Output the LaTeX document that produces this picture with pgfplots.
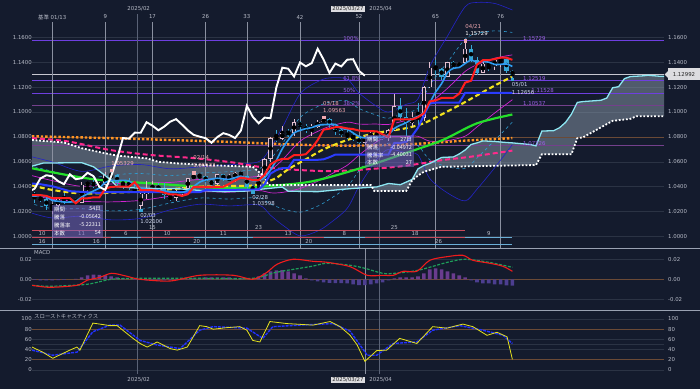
\documentclass[border=0pt]{standalone}
\usepackage{fontspec}
\setmainfont{DejaVu Sans}
\newfontfamily\jp{Noto Sans CJK JP}
\usepackage{pgfplots}
\usepackage{pgfplotstable}
\pgfplotsset{compat=1.18}

\definecolor{bg}{HTML}{141B2D}
\definecolor{gridc}{HTML}{2B3344}
\definecolor{labc}{HTML}{B8BCC8}
\definecolor{upc}{HTML}{E2BFCF}
\definecolor{dnc}{HTML}{36A6D6}
\definecolor{fibc}{HTML}{6E3FE0}
\definecolor{fibt}{HTML}{9B5FE6}
\definecolor{fibd}{HTML}{74408C}
\definecolor{brownc}{HTML}{6B4A36}
\definecolor{vline}{HTML}{8A90A0}
\definecolor{mline}{HTML}{5A6276}
\definecolor{pricel}{HTML}{C8C8D0}
\definecolor{yel}{HTML}{F2E21E}
\definecolor{grn}{HTML}{24E02A}
\definecolor{red1}{HTML}{FF1E1E}
\definecolor{blu1}{HTML}{2A3CFF}
\definecolor{sky}{HTML}{2E9CF0}
\definecolor{aqua}{HTML}{8CE6F2}
\definecolor{pinkd}{HTML}{FF2A8C}
\definecolor{orng}{HTML}{FF9424}
\definecolor{bb3}{HTML}{2424C8}
\definecolor{bb2}{HTML}{2E9CD0}
\definecolor{bb1}{HTML}{D024D0}
\definecolor{cloud}{HTML}{8C9CAC}
\definecolor{rowr}{HTML}{C84A5C}
\definecolor{rowb}{HTML}{6AAED6}
\definecolor{boxc}{HTML}{7667C0}
\definecolor{histp}{HTML}{6A3C8E}
\definecolor{histn}{HTML}{4C3E90}
\definecolor{macdr}{HTML}{F01C1C}
\definecolor{macdg}{HTML}{1E9E5A}
\definecolor{stoy}{HTML}{E6E21E}
\definecolor{stob}{HTML}{2232FF}
\definecolor{sepc}{HTML}{9AA2B2}
\definecolor{hiC}{HTML}{F0A8B0}
\definecolor{loC}{HTML}{D0D8F0}
\definecolor{curbg}{HTML}{DCDCE0}

\tikzset{
  lab/.style={font=\fontsize{5.4}{6}\selectfont, text=labc, inner sep=0pt},
  jl/.style={font=\jp\fontsize{5.4}{6}\selectfont, text=white, inner sep=0pt},
}
\pgfplotsset{panel/.style={scale only axis, width=632pt, xmin=-3.42, xmax=103.7,
  axis line style={draw=none}, xtick=\empty, major tick length=0pt, minor tick length=0pt,
  yticklabels={}, scaled y ticks=false, ymajorgrids, grid style={gridc, line width=0.5pt},
  clip mode=individual}}

\pgfplotstableread[row sep=\\]{
x o h l c \\
0 1.0244 1.0266 1.0178 1.0245 \\
1 1.0245 1.0315 1.0234 1.0307 \\
3 1.0290 1.0321 1.0273 1.0300 \\
5 1.0273 1.0434 1.0266 1.0417 \\
6 1.0417 1.0436 1.0340 1.0430 \\
8 1.0410 1.0434 1.0380 1.0416 \\
9 1.0416 1.0521 1.0410 1.0497 \\
15 1.0245 1.0375 1.0210 1.0344 \\
16 1.0344 1.0442 1.0300 1.0377 \\
17 1.0377 1.0442 1.0356 1.0401 \\
21 1.0308 1.0370 1.0285 1.0361 \\
22 1.0361 1.0400 1.0318 1.0383 \\
23 1.0383 1.0470 1.0370 1.0466 \\
24 1.0466 1.0513 1.0460 1.0492 \\
28 1.0420 1.0505 1.0410 1.0500 \\
30 1.0460 1.0502 1.0450 1.0468 \\
31 1.0468 1.0520 1.0440 1.0512 \\
35 1.0375 1.0500 1.0375 1.0484 \\
36 1.0484 1.0630 1.0470 1.0624 \\
37 1.0624 1.0800 1.0600 1.0791 \\
39 1.0786 1.0888 1.0775 1.0834 \\
41 1.0833 1.0947 1.0810 1.0918 \\
44 1.0853 1.0905 1.0810 1.0883 \\
45 1.0883 1.0935 1.0870 1.0922 \\
46 1.0922 1.0956 1.0915 1.0943 \\
53 1.0753 1.0810 1.0735 1.0799 \\
54 1.0799 1.0840 1.0780 1.0830 \\
57 1.0791 1.0860 1.0770 1.0852 \\
58 1.0852 1.1145 1.0850 1.1050 \\
61 1.0909 1.1000 1.0880 1.0955 \\
63 1.0950 1.1210 1.0930 1.1198 \\
64 1.1198 1.1400 1.1190 1.1356 \\
67 1.1285 1.1400 1.1280 1.1398 \\
69 1.1367 1.1400 1.1360 1.1393 \\
70 1.1393 1.1573 1.1390 1.1508 \\
73 1.1314 1.1400 1.1310 1.1389 \\
75 1.1366 1.1425 1.1340 1.1420 \\
76 1.1420 1.1425 1.1365 1.1424 \\
}\upC

\pgfplotstableread[row sep=\\]{
x o h l c \\
-4 1.0389 1.0437 1.0323 1.0343 \\
-3 1.0343 1.0356 1.0273 1.0318 \\
-2 1.0318 1.0325 1.0281 1.0300 \\
-1 1.0300 1.0314 1.0214 1.0244 \\
2 1.0307 1.0353 1.0265 1.0290 \\
4 1.0300 1.0309 1.0266 1.0273 \\
7 1.0430 1.0452 1.0390 1.0410 \\
10 1.0497 1.0533 1.0434 1.0492 \\
11 1.0492 1.0494 1.0398 1.0431 \\
12 1.0431 1.0435 1.0381 1.0421 \\
13 1.0421 1.0466 1.0376 1.0391 \\
14 1.0391 1.0411 1.0349 1.0361 \\
18 1.0401 1.0430 1.0355 1.0381 \\
19 1.0381 1.0430 1.0300 1.0330 \\
20 1.0330 1.0333 1.0285 1.0308 \\
25 1.0492 1.0505 1.0457 1.0484 \\
26 1.0484 1.0490 1.0430 1.0445 \\
27 1.0445 1.0465 1.0400 1.0420 \\
29 1.0500 1.0505 1.0443 1.0460 \\
32 1.0512 1.0528 1.0480 1.0485 \\
33 1.0485 1.0495 1.0385 1.0398 \\
34 1.0398 1.0410 1.0360 1.0375 \\
38 1.0791 1.0855 1.0760 1.0786 \\
40 1.0834 1.0860 1.0800 1.0833 \\
42 1.0918 1.0930 1.0860 1.0890 \\
43 1.0890 1.0900 1.0830 1.0853 \\
47 1.0943 1.0955 1.0870 1.0899 \\
48 1.0899 1.0905 1.0812 1.0852 \\
49 1.0852 1.0860 1.0800 1.0816 \\
50 1.0816 1.0857 1.0780 1.0802 \\
51 1.0802 1.0830 1.0770 1.0790 \\
52 1.0790 1.0800 1.0745 1.0753 \\
55 1.0830 1.0850 1.0770 1.0816 \\
56 1.0816 1.0835 1.0777 1.0791 \\
59 1.1050 1.1110 1.0930 1.0961 \\
60 1.0961 1.1030 1.0810 1.0909 \\
62 1.0955 1.1070 1.0900 1.0950 \\
65 1.1356 1.1415 1.1300 1.1348 \\
66 1.1348 1.1350 1.1260 1.1285 \\
68 1.1398 1.1410 1.1350 1.1367 \\
71 1.1508 1.1540 1.1400 1.1421 \\
72 1.1421 1.1440 1.1300 1.1314 \\
74 1.1389 1.1390 1.1330 1.1366 \\
77 1.1424 1.1425 1.1310 1.1330 \\
78 1.1330 1.1340 1.1266 1.1299 \\
}\dnC

\pgfplotstableread[row sep=\\]{
x y \\
-3.42 1.0565 \\ -1.5 1.0590 \\ 5 1.0593 \\ 7 1.0560 \\ 9 1.0490 \\ 10 1.0450 \\ 11 1.0400 \\
15 1.0387 \\ 21 1.0385 \\ 25 1.0370 \\ 29 1.0360 \\ 33 1.0365 \\ 35 1.0378 \\ 39 1.0397 \\
40 1.0364 \\ 45 1.0360 \\ 49 1.0378 \\ 51 1.0386 \\ 55 1.0398 \\ 57 1.0426 \\ 59 1.0416 \\
61 1.0458 \\ 62 1.0543 \\ 63 1.0570 \\ 64 1.0587 \\ 66 1.0635 \\ 68 1.0639 \\ 69 1.0663 \\
70 1.0695 \\ 71 1.0739 \\ 72 1.0752 \\ 73 1.0768 \\ 75 1.0763 \\ 77 1.0755 \\ 78 1.0752 \\
81 1.0739 \\ 82 1.0728 \\ 83 1.0847 \\ 85 1.0850 \\ 86 1.0874 \\ 87 1.0916 \\ 88 1.0982 \\
89 1.1077 \\ 90 1.1084 \\ 93 1.1094 \\ 94 1.1112 \\ 95 1.1195 \\ 96 1.1203 \\ 97 1.1268 \\
98 1.1285 \\ 100 1.1290 \\ 101 1.1295 \\ 103 1.1287 \\ 103.7 1.1287 \\
}\spanA

\pgfplotstableread[row sep=\\]{
x y \\
-3.42 1.0775 \\ 2 1.0755 \\ 5 1.0709 \\ 9 1.0668 \\ 11 1.0650 \\ 16 1.0628 \\ 18 1.0600 \\
21 1.0588 \\ 26 1.0574 \\ 34 1.0560 \\ 35 1.0520 \\ 36 1.0480 \\ 36.6 1.0414 \\ 54 1.0414 \\
54.6 1.0365 \\ 60 1.0365 \\ 61 1.0450 \\ 62 1.0489 \\ 63 1.0520 \\ 66 1.0560 \\ 82 1.0574 \\
83 1.0660 \\ 88 1.0660 \\ 89 1.0789 \\ 90 1.0797 \\ 92 1.0850 \\ 95 1.0929 \\ 98 1.0945 \\
99 1.0966 \\ 103.7 1.0966 \\
}\spanB

% cloud outline: span A forward, then span B backward
\pgfplotstableread[row sep=\\]{
x y \\
-3.42 1.0565 \\ -1.5 1.0590 \\ 5 1.0593 \\ 7 1.0560 \\ 9 1.0490 \\ 10 1.0450 \\ 11 1.0400 \\
15 1.0387 \\ 21 1.0385 \\ 25 1.0370 \\ 29 1.0360 \\ 33 1.0365 \\ 35 1.0378 \\ 39 1.0397 \\
40 1.0364 \\ 45 1.0360 \\ 49 1.0378 \\ 51 1.0386 \\ 55 1.0398 \\ 57 1.0426 \\ 59 1.0416 \\
61 1.0458 \\ 62 1.0543 \\ 63 1.0570 \\ 64 1.0587 \\ 66 1.0635 \\ 68 1.0639 \\ 69 1.0663 \\
70 1.0695 \\ 71 1.0739 \\ 72 1.0752 \\ 73 1.0768 \\ 75 1.0763 \\ 77 1.0755 \\ 78 1.0752 \\
81 1.0739 \\ 82 1.0728 \\ 83 1.0847 \\ 85 1.0850 \\ 86 1.0874 \\ 87 1.0916 \\ 88 1.0982 \\
89 1.1077 \\ 90 1.1084 \\ 93 1.1094 \\ 94 1.1112 \\ 95 1.1195 \\ 96 1.1203 \\ 97 1.1268 \\
98 1.1285 \\ 100 1.1290 \\ 101 1.1295 \\ 103 1.1287 \\ 103.7 1.1287 \\
103.7 1.0966 \\ 99 1.0966 \\ 98 1.0945 \\ 95 1.0929 \\ 92 1.0850 \\ 90 1.0797 \\ 89 1.0789 \\
88 1.0660 \\ 83 1.0660 \\ 82 1.0574 \\ 66 1.0560 \\ 63 1.0520 \\ 62 1.0489 \\ 61 1.0450 \\
60 1.0365 \\ 54.6 1.0365 \\ 54 1.0414 \\ 36.6 1.0414 \\ 36 1.0480 \\ 35 1.0520 \\ 34 1.0560 \\
26 1.0574 \\ 21 1.0588 \\ 18 1.0600 \\ 16 1.0628 \\ 11 1.0650 \\ 9 1.0668 \\ 5 1.0709 \\
2 1.0755 \\ -3.42 1.0775 \\
}\cloudpoly

\pgfplotstableread[row sep=\\]{
x u3 u2 u1 l1 l2 l3 \\
-4 1.0646 1.0571 1.0496 1.0346 1.0271 1.0196 \\
0 1.0599 1.0524 1.0449 1.0299 1.0224 1.0149 \\
5 1.0523 1.0463 1.0403 1.0283 1.0223 1.0163 \\
10 1.0566 1.0494 1.0422 1.0278 1.0206 1.0134 \\
15 1.0578 1.0506 1.0434 1.0290 1.0218 1.0146 \\
20 1.0544 1.0489 1.0434 1.0324 1.0269 1.0214 \\
25 1.0559 1.0509 1.0459 1.0359 1.0309 1.0259 \\
30 1.0576 1.0521 1.0466 1.0356 1.0301 1.0246 \\
35 1.0601 1.0543 1.0485 1.0369 1.0311 1.0253 \\
37 1.0711 1.0621 1.0531 1.0351 1.0261 1.0171 \\
39 1.0874 1.0744 1.0614 1.0354 1.0224 1.0094 \\
42 1.1145 1.0955 1.0765 1.0385 1.0195 1.0005 \\
45 1.1244 1.1044 1.0844 1.0444 1.0244 1.0044 \\
47 1.1274 1.1079 1.0884 1.0494 1.0299 1.0104 \\
50 1.1264 1.1091 1.0918 1.0572 1.0399 1.0226 \\
52 1.1153 1.1028 1.0903 1.0653 1.0528 1.0403 \\
55 1.1045 1.0974 1.0903 1.0761 1.0690 1.0619 \\
57 1.1000 1.0950 1.0900 1.0800 1.0750 1.0700 \\
60 1.1062 1.0997 1.0932 1.0802 1.0737 1.0672 \\
62 1.1105 1.1030 1.0955 1.0805 1.0730 1.0655 \\
64 1.1366 1.1216 1.1066 1.0766 1.0616 1.0466 \\
67 1.1610 1.1400 1.1190 1.0770 1.0560 1.0350 \\
70 1.1846 1.1586 1.1326 1.0806 1.0546 1.0286 \\
72 1.1880 1.1630 1.1380 1.0880 1.0630 1.0380 \\
75 1.1872 1.1652 1.1432 1.0992 1.0772 1.0552 \\
78 1.1819 1.1639 1.1459 1.1099 1.0919 1.0739 \\
}\boll

\begin{document}
\begin{tikzpicture}[x=1pt,y=1pt]
\fill[bg] (0,0) rectangle (700,389);

%================ MAIN PANEL ================
\begin{axis}[panel, at={(32pt,141pt)}, anchor=south west, height=248pt,
  ymin=0.99076, ymax=1.18996, ytick={1.00,1.02,1.04,1.06,1.08,1.10,1.12,1.14,1.16}]
% cloud
\addplot[fill=cloud, fill opacity=0.5, draw=none, forget plot] table[x=x,y=y]{\cloudpoly};
% horizontal levels
\draw[brownc, line width=0.6pt] (axis cs:-3.42,1.08) -- (axis cs:103.7,1.08);
\draw[fibc, line width=0.8pt] (axis cs:-3.42,1.15729) -- (axis cs:103.7,1.15729);
\draw[fibc, line width=0.8pt] (axis cs:-3.42,1.12519) -- (axis cs:103.7,1.12519);
\draw[fibc, line width=0.8pt] (axis cs:-3.42,1.11528) -- (axis cs:103.7,1.11528);
\draw[fibd, line width=0.8pt] (axis cs:-3.42,1.10537) -- (axis cs:103.7,1.10537);
\draw[fibd, line width=0.8pt] (axis cs:-3.42,1.07326) -- (axis cs:103.7,1.07326);
\draw[pricel, line width=0.7pt] (axis cs:-3.42,1.12992) -- (axis cs:103.7,1.12992);
% time lines
\draw[vline, line width=0.5pt] (axis cs:0,0.99076) -- (axis cs:0,1.1723);
\node[lab] at (axis cs:0,1.1763) {{\jp 基準} 01/13};
\pgfplotsinvokeforeach{9,17,26,33,42,52,65,76}{
  \draw[vline, line width=0.5pt] (axis cs:#1,0.99076) -- (axis cs:#1,1.1723);
  \node[lab] at (axis cs:#1,1.1763) {#1};
}
\draw[mline, line width=0.5pt] (axis cs:14.5,0.99076) -- (axis cs:14.5,1.1787);
\draw[mline, line width=0.5pt] (axis cs:55.5,0.99076) -- (axis cs:55.5,1.1787);
% y labels
\pgfplotsinvokeforeach{1.0000,1.0200,1.0400,1.0600,1.0800,1.1000,1.1200,1.1400,1.1600}{
  \node[lab, anchor=east] at (axis cs:-3.42,#1) {#1\hspace{1.2pt}};
  \node[lab, anchor=west] at (axis cs:103.7,#1) {\hspace{4pt}#1};
}
% Bollinger
\addplot[bb3, line width=0.6pt, smooth] table[x=x,y=u3]{\boll};
\addplot[bb3, line width=0.6pt, smooth] table[x=x,y=l3]{\boll};
\addplot[bb2, line width=0.6pt, smooth, dashed] table[x=x,y=u2]{\boll};
\addplot[bb2, line width=0.6pt, smooth, dashed] table[x=x,y=l2]{\boll};
\addplot[bb1, line width=0.7pt, smooth] table[x=x,y=u1]{\boll};
\addplot[bb1, line width=0.7pt, smooth] table[x=x,y=l1]{\boll};
% long MAs
\addplot[orng, line width=2.4pt, dash pattern=on 2.4pt off 2pt, smooth] coordinates {
(-3.42,1.0805) (10,1.0790) (20,1.0775) (30,1.0760) (40,1.0740) (50,1.0730) (60,1.0740) (70,1.0770) (78,1.0790)};
\addplot[pinkd, line width=2pt, dash pattern=on 5pt off 3pt, smooth] coordinates {
(-3.42,1.0790) (2.5,1.0765) (9.8,1.0695) (16.6,1.0655) (23.9,1.0630) (30.6,1.0595) (36,1.0555) (47,1.0525) (58.4,1.0560) (66.2,1.0614) (70.8,1.0640) (78,1.0690)};
\addplot[grn, line width=2.2pt, smooth] coordinates {
(-3.42,1.0548) (2.5,1.0494) (8.1,1.0454) (16.6,1.0427) (25,1.0400) (31.8,1.0387) (35.2,1.0400) (43.7,1.0440) (52.2,1.0548) (60.6,1.0681) (66.2,1.0775) (72,1.0909) (78,1.0980)};
\addplot[yel, line width=2.1pt, dash pattern=on 5pt off 3pt, smooth] coordinates {
(-3.42,1.0410) (0,1.0374) (5,1.0345) (10,1.0352) (15,1.0362) (20,1.0379) (25,1.0400) (30,1.0405) (34,1.0410) (36,1.0435) (38,1.0470) (40,1.0540) (43,1.0620) (46,1.0700) (50,1.0775) (53,1.0810) (56,1.0840) (60,1.0870) (63,1.0910) (66,1.0980) (70,1.1080) (73,1.1160) (75,1.1212) (78,1.1285)};
% candles
\addplot[only marks, mark=none, forget plot, error bars/.cd, y dir=both, y explicit, error mark=none,
  error bar style={draw=dnc, line width=0.7pt}]
  table[x=x, y expr=(\thisrow{h}+\thisrow{l})/2, y error expr=(\thisrow{h}-\thisrow{l})/2]{\dnC};
\addplot[only marks, mark=none, forget plot, error bars/.cd, y dir=both, y explicit, error mark=none,
  error bar style={draw=dnc, line width=4.2pt}]
  table[x=x, y expr=(\thisrow{o}+\thisrow{c})/2, y error expr={max(abs(\thisrow{c}-\thisrow{o})/2,0.0003)}]{\dnC};
\addplot[only marks, mark=none, forget plot, error bars/.cd, y dir=both, y explicit, error mark=none,
  error bar style={draw=upc, line width=0.7pt}]
  table[x=x, y expr=(\thisrow{h}+\thisrow{l})/2, y error expr=(\thisrow{h}-\thisrow{l})/2]{\upC};
\addplot[only marks, mark=none, forget plot, error bars/.cd, y dir=both, y explicit, error mark=none,
  error bar style={draw=upc, line width=4.2pt}]
  table[x=x, y expr=(\thisrow{o}+\thisrow{c})/2, y error expr={max(abs(\thisrow{c}-\thisrow{o})/2,0.0003)}]{\upC};
\addplot[only marks, mark=none, forget plot, error bars/.cd, y dir=both, y explicit, error mark=none,
  error bar style={draw=bg, line width=2.6pt}]
  table[x=x, y expr=(\thisrow{o}+\thisrow{c})/2, y error expr={max(abs(\thisrow{c}-\thisrow{o})/2-0.0006,0)}]{\upC};
% Ichimoku lines
\addplot[aqua, line width=1.3pt] table[x=x,y=y]{\spanA};
\addplot[white, line width=1.8pt, dash pattern=on 1.8pt off 1.8pt] table[x=x,y=y]{\spanB};
\addplot[blu1, line width=2pt] coordinates {
(-4,1.0428) (-2,1.0420) (0,1.0404) (3,1.0364) (8,1.0350) (9,1.0356) (25,1.0356) (26,1.0372) (35,1.0378) (36,1.0420) (37,1.0505) (38,1.0533) (39,1.0549) (40,1.0549) (41,1.0616) (45,1.0616) (46,1.0620) (47,1.0637) (48,1.0658) (57,1.0658) (58,1.0753) (59,1.0753) (60,1.0760) (61,1.0808) (62,1.0873) (63,1.0973) (64,1.1068) (65,1.1075) (69,1.1075) (70,1.1154) (78,1.1154)};
\addplot[sky, line width=1.6pt, smooth] coordinates {
(-4,1.0332)(-3,1.0324)(-2,1.0331)(-1,1.0319)(0,1.0290)(1,1.0283)(2,1.0277)(3,1.0277)(4,1.0283)(5,1.0317)(6,1.0342)(7,1.0366)(8,1.0389)(9,1.0434)(10,1.0449)(11,1.0449)(12,1.0451)(13,1.0446)(14,1.0419)(15,1.0390)(16,1.0379)(17,1.0375)(18,1.0373)(19,1.0367)(20,1.0359)(21,1.0356)(22,1.0353)(23,1.0370)(24,1.0402)(25,1.0437)(26,1.0454)(27,1.0461)(28,1.0468)(29,1.0462)(30,1.0459)(31,1.0472)(32,1.0485)(33,1.0465)(34,1.0448)(35,1.0451)(36,1.0473)(37,1.0534)(38,1.0612)(39,1.0704)(40,1.0774)(41,1.0832)(42,1.0852)(43,1.0866)(44,1.0875)(45,1.0893)(46,1.0898)(47,1.0900)(48,1.0900)(49,1.0866)(50,1.0862)(51,1.0832)(52,1.0803)(53,1.0792)(54,1.0795)(55,1.0798)(56,1.0798)(57,1.0818)(58,1.0868)(59,1.0894)(60,1.0913)(61,1.0945)(62,1.0965)(63,1.0995)(64,1.1074)(65,1.1161)(66,1.1227)(67,1.1317)(68,1.1351)(69,1.1358)(70,1.1390)(71,1.1417)(72,1.1401)(73,1.1405)(74,1.1400)(75,1.1382)(76,1.1383)(77,1.1386)(78,1.1366)};
\addplot[red1, line width=2pt] coordinates {
(-4,1.0332)(-2,1.0332)(-1,1.0326)(0,1.0308)(3,1.0308)(4,1.0267)(5,1.0306)(6,1.0307)(7,1.0315)(8,1.0315)(9,1.0384)(10,1.0399)(11,1.0400)(13,1.0400)(14,1.0437)(15,1.0372)(17,1.0372)(18,1.0366)(19,1.0352)(20,1.0338)(21,1.0338)(22,1.0326)(23,1.0340)(24,1.0399)(29,1.0399)(30,1.0423)(31,1.0449)(32,1.0473)(33,1.0465)(34,1.0453)(35,1.0453)(36,1.0495)(37,1.0580)(38,1.0608)(39,1.0624)(40,1.0624)(41,1.0654)(42,1.0654)(43,1.0661)(44,1.0709)(45,1.0774)(46,1.0858)(47,1.0866)(48,1.0878)(49,1.0878)(50,1.0868)(51,1.0863)(52,1.0851)(53,1.0846)(54,1.0846)(55,1.0845)(56,1.0820)(57,1.0798)(58,1.0940)(61,1.0940)(62,1.0958)(63,1.0990)(64,1.1085)(65,1.1093)(66,1.1113)(68,1.1113)(69,1.1148)(70,1.1236)(71,1.1251)(72,1.1381)(73,1.1416)(74,1.1416)(75,1.1426)(76,1.1436)(77,1.1436)(78,1.1419)};
% chikou span
\addplot[white, line width=1.9pt] coordinates {
(-4,1.0361)(-3,1.0383)(-2,1.0466)(-1,1.0492)(0,1.0484)(1,1.0445)(2,1.0420)(3,1.0500)(4,1.0460)(5,1.0468)(6,1.0512)(7,1.0485)(8,1.0398)(9,1.0375)(10,1.0484)(11,1.0624)(12,1.0791)(13,1.0786)(14,1.0834)(15,1.0833)(16,1.0918)(17,1.0890)(18,1.0853)(19,1.0883)(20,1.0922)(21,1.0943)(22,1.0899)(23,1.0852)(24,1.0816)(25,1.0802)(26,1.0790)(27,1.0753)(28,1.0799)(29,1.0830)(30,1.0816)(31,1.0791)(32,1.0852)(33,1.1050)(34,1.0961)(35,1.0909)(36,1.0955)(37,1.0950)(38,1.1198)(39,1.1356)(40,1.1348)(41,1.1285)(42,1.1398)(43,1.1367)(44,1.1393)(45,1.1508)(46,1.1421)(47,1.1314)(48,1.1389)(49,1.1366)(50,1.1420)(51,1.1424)(52,1.1330)(53,1.1292)};
% high/low markers
\addplot[only marks, mark=square*, mark size=1.2pt, color=hiC] coordinates {(10,1.05329)(24,1.05132)(46,1.09563)(70,1.15729)};
\addplot[only marks, mark=square*, mark size=1.2pt, color=dnc] coordinates {(15,1.0210)(34,1.03598)(78,1.12656)};
% fib labels
\node[lab, text=fibt, anchor=south west] at (axis cs:49.3,1.15729) {100\%};
\node[lab, text=fibt, anchor=south west] at (axis cs:49.3,1.12519) {61.8\%};
\node[lab, text=fibt, anchor=south west] at (axis cs:49.3,1.11528) {50\%};
\node[lab, text=fibt, anchor=south west] at (axis cs:49.3,1.10537) {38.2\%};
\node[lab, text=fibt, anchor=south west] at (axis cs:79.8,1.15729) {1.15729};
\node[lab, text=fibt, anchor=south west] at (axis cs:79.8,1.12519) {1.12519};
\node[lab, text=fibt, anchor=south west] at (axis cs:81.2,1.11528) {1.11528};
\node[lab, text=fibt, anchor=south west] at (axis cs:79.8,1.10537) {1.10537};
\node[lab, text=fibt, anchor=south west] at (axis cs:79.8,1.07326) {1.07326};
% point annotations
\node[lab, text=hiC, anchor=west] at (axis cs:10,1.0590) {1.05329};
\node[lab, text=hiC, anchor=west] at (axis cs:23.9,1.0630) {02/14};
\node[lab, text=hiC, anchor=west] at (axis cs:23.9,1.0574) {1.05132};
\node[lab, text=hiC, anchor=west] at (axis cs:45.9,1.1064) {03/18};
\node[lab, text=hiC, anchor=west] at (axis cs:45.9,1.1008) {1.09563};
\node[lab, text=loC, anchor=west] at (axis cs:14.9,1.0168) {02/03};
\node[lab, text=loC, anchor=west] at (axis cs:14.9,1.0122) {1.02100};
\node[lab, text=loC, anchor=west] at (axis cs:33.9,1.0309) {02/28};
\node[lab, text=loC, anchor=west] at (axis cs:33.9,1.0261) {1.03598};
\node[lab, text=hiC, anchor=west] at (axis cs:70,1.1683) {04/21};
\node[lab, text=white, anchor=west] at (axis cs:70,1.1627) {1.15729};
\node[lab, text=loC, anchor=west] at (axis cs:77.9,1.1217) {05/01};
\node[lab, text=loC, anchor=west] at (axis cs:77.9,1.1153) {1.12656};
% cycle rows
\draw[rowr, line width=0.9pt] (axis cs:-3.42,1.0052) -- (axis cs:70,1.0052);
\node[lab] at (axis cs:17,1.0074) {15};
\node[lab] at (axis cs:35,1.0074) {23};
\node[lab] at (axis cs:58,1.0074) {25};
\draw[rowr, line width=0.9pt] (axis cs:-3.42,0.9996) -- (axis cs:10,0.9996);
\draw[rowb, line width=0.9pt] (axis cs:10,0.9996) -- (axis cs:15,0.9996);
\draw[rowr, line width=0.9pt] (axis cs:15,0.9996) -- (axis cs:24,0.9996);
\draw[rowb, line width=0.9pt] (axis cs:24,0.9996) -- (axis cs:34,0.9996);
\draw[rowr, line width=0.9pt] (axis cs:34,0.9996) -- (axis cs:46,0.9996);
\draw[rowb, line width=0.9pt] (axis cs:46,0.9996) -- (axis cs:53,0.9996);
\draw[rowr, line width=0.9pt] (axis cs:53,0.9996) -- (axis cs:70,0.9996);
\draw[rowb, line width=0.9pt] (axis cs:70,0.9996) -- (axis cs:78,0.9996);
\node[lab] at (axis cs:-1.7,1.0020) {10};
\node[lab] at (axis cs:5,1.0020) {11};
\node[lab] at (axis cs:12.5,1.0020) {6};
\node[lab] at (axis cs:19.5,1.0020) {10};
\node[lab] at (axis cs:29,1.0020) {11};
\node[lab] at (axis cs:40,1.0020) {13};
\node[lab] at (axis cs:49.5,1.0020) {8};
\node[lab] at (axis cs:61.5,1.0020) {18};
\node[lab] at (axis cs:74,1.0020) {9};
\draw[rowb, line width=0.9pt] (axis cs:-3.42,0.9940) -- (axis cs:78,0.9940);
\node[lab] at (axis cs:-1.7,0.9963) {16};
\node[lab] at (axis cs:7.5,0.9963) {16};
\node[lab] at (axis cs:24.5,0.9963) {20};
\node[lab] at (axis cs:43.5,0.9963) {20};
\node[lab] at (axis cs:65.5,0.9963) {26};
\end{axis}

%================ MACD PANEL ================
\begin{axis}[panel, at={(32pt,79pt)}, anchor=south west, height=62pt,
  ymin=-0.0307, ymax=0.0313, ytick={-0.02,0.02}]
\draw[brownc, line width=0.7pt] (axis cs:-3.42,0) -- (axis cs:103.7,0);
\draw[mline, line width=0.5pt] (axis cs:14.5,-0.0307) -- (axis cs:14.5,0.0313);
\draw[mline, line width=0.5pt] (axis cs:55.5,-0.0307) -- (axis cs:55.5,0.0313);
\draw[vline, line width=0.5pt] (axis cs:53,-0.0307) -- (axis cs:53,0.0313);
\addplot[ybar, bar width=3.6pt, bar shift=0pt, fill=histp, draw=none] coordinates {
(4,0.0005)(5,0.002)(6,0.004)(7,0.0047)(8,0.0045)(9,0.004)(10,0.003)(11,0.002)(12,0.001)
(22,0.0002)(23,0.0005)(24,0.001)(25,0.0015)(26,0.002)(27,0.002)(28,0.002)(29,0.002)(30,0.002)(31,0.0015)(32,0.001)
(35,0.003)(36,0.006)(37,0.008)(38,0.009)(39,0.0093)(40,0.008)(41,0.006)(42,0.004)(43,0.001)
(58,0.001)(59,0.002)(60,0.002)(61,0.002)(62,0.003)(63,0.006)(64,0.010)(65,0.011)(66,0.010)(67,0.008)(68,0.006)(69,0.004)(70,0.002)};
\addplot[ybar, bar width=3.6pt, bar shift=0pt, fill=histn, draw=none] coordinates {
(-3,-0.0005)(-2,-0.001)(-1,-0.001)(0,-0.001)(1,-0.0008)(2,-0.0005)
(14,-0.0005)(15,-0.0005)(16,-0.001)(17,-0.0012)(18,-0.0012)(19,-0.001)(20,-0.0008)(21,-0.0005)
(44,-0.001)(45,-0.002)(46,-0.003)(47,-0.0035)(48,-0.0037)(49,-0.0037)(50,-0.004)(51,-0.005)(52,-0.0057)(53,-0.0057)(54,-0.005)(55,-0.004)(56,-0.003)(57,-0.001)
(71,-0.001)(72,-0.003)(73,-0.004)(74,-0.004)(75,-0.005)(76,-0.005)(77,-0.006)(78,-0.0064)};
\addplot[macdg, line width=1.2pt, dash pattern=on 3pt off 1.5pt, smooth] coordinates {
(-3.42,-0.006)(-0.4,-0.007)(5.9,-0.005)(10,0.0)(15,0.001)(25,0.001)(34,0.001)(38,0.007)(44,0.013)(46.6,0.016)(50.5,0.014)(53,0.011)(56,0.006)(58,0.006)(62,0.009)(67,0.017)(70,0.020)(74,0.017)(78,0.012)};
\addplot[macdr, line width=1.1pt, smooth] coordinates {
(-3.42,-0.006)(-0.4,-0.008)(4.2,-0.006)(5.9,-0.001)(8.1,0.002)(10.1,0.006)(12.7,0.003)(14.9,0.0)(20,-0.0017)(25,0.004)(30.7,0.004)(34,0.0)(36.4,0.007)(38.1,0.015)(40.8,0.020)(44.2,0.018)(46.6,0.017)(50.5,0.0126)(53.4,0.004)(56.1,0.004)(57.8,0.004)(59.5,0.008)(61.8,0.008)(64,0.019)(66.9,0.0226)(69.6,0.024)(71.3,0.019)(74.2,0.016)(76.4,0.013)(78,0.008)};
\pgfplotsinvokeforeach{0.02,0.00,-0.02}{
  \node[lab, anchor=east] at (axis cs:-3.42,#1) {#1\hspace{1.2pt}};
  \node[lab, anchor=west] at (axis cs:103.7,#1) {\hspace{4pt}#1};
}
\end{axis}

%================ STOCHASTICS PANEL ================
\begin{axis}[panel, at={(32pt,15pt)}, anchor=south west, height=64pt,
  ymin=-7.8, ymax=117.6, ytick={0,40,50,60,100}]
\draw[brownc, line width=0.7pt] (axis cs:-3.42,80) -- (axis cs:103.7,80);
\draw[brownc, line width=0.7pt] (axis cs:-3.42,20) -- (axis cs:103.7,20);
\draw[mline, line width=0.5pt] (axis cs:14.5,-7.8) -- (axis cs:14.5,117.6);
\draw[mline, line width=0.5pt] (axis cs:55.5,-7.8) -- (axis cs:55.5,117.6);
\draw[vline, line width=0.5pt] (axis cs:53,-7.8) -- (axis cs:53,117.6);
\addplot[stob, line width=1.4pt, dash pattern=on 3pt off 1pt] coordinates {
(-3.42,39)(0.1,29)(4.2,35)(6.9,75)(9.8,88)(11.5,88)(14.9,58)(17.8,49)(21.7,42)(25,78)(27.3,85)(33,82)(35.7,62)(37.4,85)(42,88)(47.6,91)(50.5,76)(53.4,29)(55,29)(57.8,52)(61.8,55)(64.5,78)(69.1,87)(73,78)(76.4,68)(78,52)};
\addplot[stoy, line width=0.8pt] coordinates {
(-3.42,45)(-1.6,35)(0.1,23)(3,39)(4.2,45)(4.7,39)(6.9,92)(9.8,87)(11,87)(13.7,62)(14.9,52)(16.1,45)(17.8,55)(20,42)(21.2,39)(22.9,45)(25,87)(26.2,85)(27.3,80)(29.6,83)(31.8,85)(33,78)(34,58)(35.2,55)(36.9,95)(39.8,91)(44.2,88)(47.1,95)(48.8,85)(50.5,68)(51.7,49)(53,17)(55,38)(56.7,39)(58.9,62)(61.8,52)(64.5,85)(66.9,82)(69.6,90)(71.3,85)(73.7,68)(75.4,74)(77.1,65)(78,21)};
\pgfplotsinvokeforeach{100,80,60,40,20,0}{
  \node[lab, anchor=east] at (axis cs:-3.42,#1) {#1\hspace{1.2pt}};
  \node[lab, anchor=west] at (axis cs:103.7,#1) {\hspace{4pt}#1};
}
\end{axis}

%================ DECORATIONS ================
\draw[sepc, line width=0.8pt] (0,141) -- (700,141);
\draw[sepc, line width=0.8pt] (0,79) -- (700,79);
\node[lab, anchor=west] at (34,136) {MACD};
\node[lab, anchor=west, font=\jp\fontsize{5.4}{6}\selectfont] at (34,72) {スローストキャスティクス};
% top/bottom dates
\node[lab] at (138.7,380) {2025/02};
\node[lab] at (380.7,380) {2025/04};
\node[lab, fill=curbg, text=black!85, inner sep=1.2pt, anchor=east] at (365,380) {2025/03/27};
\node[lab] at (138.7,9) {2025/02};
\node[lab] at (380.7,9) {2025/04};
\node[lab, fill=curbg, text=black!85, inner sep=1.2pt, anchor=east] at (365,9) {2025/03/27};
% price tag
\fill[curbg] (668,308.5) rectangle (700,320.5);
\fill[curbg] (664.5,314.5) -- (668,311) -- (668,318) -- cycle;
\node[lab, text=black!85] at (684,314.5) {1.12992};
% info boxes
\fill[boxc, opacity=0.55] (52,151) rectangle (103,184);
\node[jl, anchor=west] at (54,180) {期間};   \node[jl, anchor=east] at (101,180) {54日};
\node[jl, anchor=west] at (54,172) {騰落};   \node[jl, anchor=east] at (101,172) {-0.05642};
\node[jl, anchor=west] at (54,164) {騰落率}; \node[jl, anchor=east] at (101,164) {-5.22311};
\node[jl, anchor=west] at (54,156) {本数};   \node[jl, anchor=east] at (101,156) {54};
\fill[boxc, opacity=0.55] (365,222) rectangle (414,254);
\node[jl, anchor=west] at (367,249.7) {期間};   \node[jl, anchor=east] at (412,249.7) {27日};
\node[jl, anchor=west] at (367,241.7) {騰落};   \node[jl, anchor=east] at (412,241.7) {-0.04972};
\node[jl, anchor=west] at (367,234) {騰落率}; \node[jl, anchor=east] at (412,234) {-4.40031};
\node[jl, anchor=west] at (367,226.3) {本数};   \node[jl, anchor=east] at (412,226.3) {27};

\pgfresetboundingbox
\path[use as bounding box] (0,0) rectangle (700,389);
\end{tikzpicture}
\end{document}
